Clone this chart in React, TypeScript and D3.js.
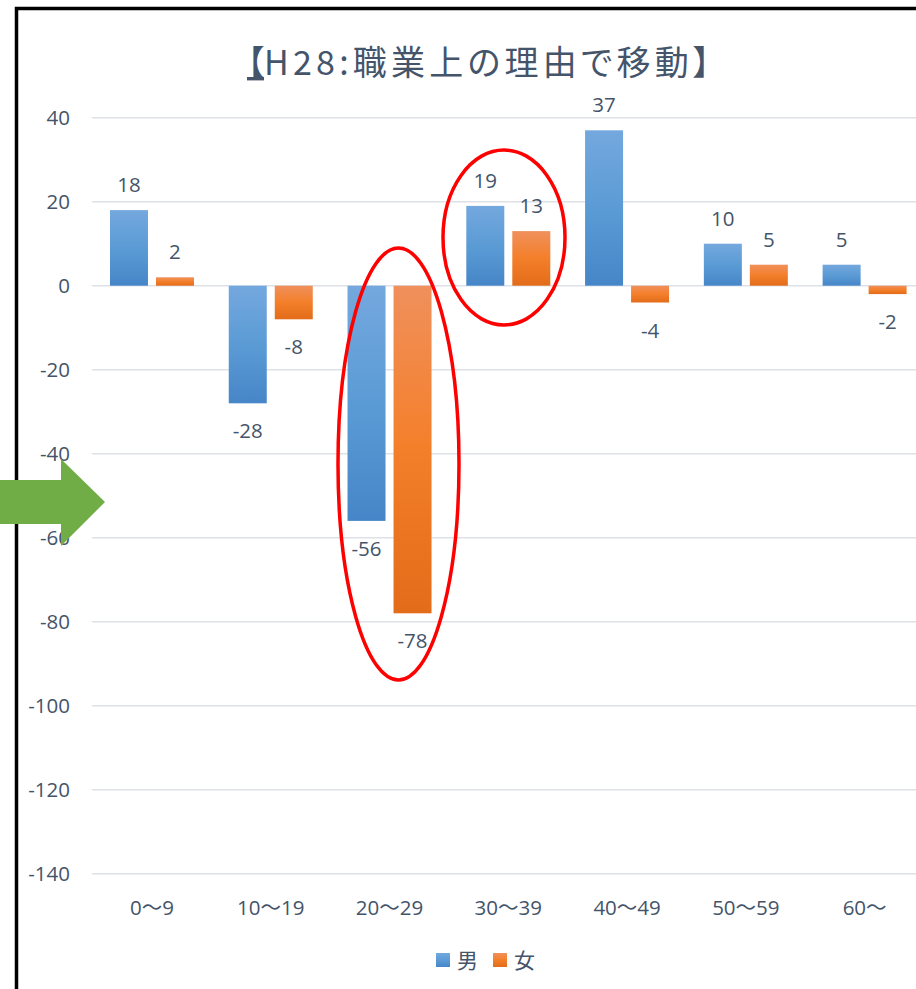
import React from "react";
import * as d3 from "d3";

const categories = ["0～9", "10～19", "20～29", "30～39", "40～49", "50～59", "60～"];
const seriesNames = ["男", "女"];
const maleValues = [18, -28, -56, 19, 37, 10, 5];
const femaleValues = [2, -8, -78, 13, -4, 5, -2];
const yTicks = [40, 20, 0, -20, -40, -60, -80, -100, -120, -140];
const titleText = "H28:職業上の理由で移動】";

const W = 916;
const H = 989;
const TEXT = "#44546A";
const NUM_FONT = "'Open Sans', 'Noto Sans CJK JP', sans-serif";
const CJK_FONT = "'Noto Sans CJK JP', sans-serif";

export default function App() {
  const x = d3.scaleBand<string>().domain(categories).range([92.6, 924]).paddingInner(0).paddingOuter(0);
  const bw = x.bandwidth();
  const groupW = 84;
  const inner = d3
    .scaleBand<string>()
    .domain(seriesNames)
    .range([(bw - groupW) / 2, (bw + groupW) / 2])
    .paddingInner(8 / 46)
    .paddingOuter(0);
  const y = d3.scaleLinear().domain([-140, 40]).range([873.7, 117.7]);

  const series = [
    { name: "男", values: maleValues, grad: "gBlue" },
    { name: "女", values: femaleValues, grad: "gOrange" },
  ];

  const arrow = [
    [0, 480],
    [61, 480],
    [61, 459],
    [105, 502],
    [61, 546],
    [61, 524],
    [0, 524],
  ];

  return (
    <svg
      width={W}
      height={H}
      style={{ position: "absolute", left: 0, top: 0, display: "block", background: "#fff" }}
    >
      <defs>
        <linearGradient id="gBlue" x1="0" y1="0" x2="0" y2="1">
          <stop offset="0" stopColor="#74A8DE" />
          <stop offset="0.5" stopColor="#5B9BD5" />
          <stop offset="1" stopColor="#4686C8" />
        </linearGradient>
        <linearGradient id="gOrange" x1="0" y1="0" x2="0" y2="1">
          <stop offset="0" stopColor="#F0905C" />
          <stop offset="0.5" stopColor="#F47F2A" />
          <stop offset="1" stopColor="#E26C19" />
        </linearGradient>
      </defs>
      <rect x={0} y={0} width={W} height={H} fill="#fff" />
      {/* border */}
      <rect x={16.5} y={8.5} width={W + 20} height={H + 20} fill="none" stroke="#000" strokeWidth={3.5} />

      {/* title */}
      <text
        x={247}
        y={75}
        fontFamily={CJK_FONT}
        fontSize={34}
        fill={TEXT}
        style={{ fontFeatureSettings: "'palt' 1" }}
      >
        <tspan textDecoration="underline">【</tspan>
        <tspan textLength={446} lengthAdjust="spacing">{titleText}</tspan>
      </text>

      {/* grid */}
      {yTicks.map((t) => (
        <line key={"g" + t} x1={92} x2={W} y1={y(t)} y2={y(t)} stroke="#DEE2E8" strokeWidth={1.5} />
      ))}
      {yTicks.map((t) => (
        <text
          key={"t" + t}
          x={70}
          y={y(t) + 7}
          textAnchor="end"
          fontFamily={NUM_FONT}
          fontSize={20.5}
          fill={TEXT}
        >
          {t}
        </text>
      ))}

      {/* bars */}
      {series.map((s) =>
        s.values.map((v, i) => {
          const bx = (x(categories[i]) as number) + (inner(s.name) as number);
          const top = y(Math.max(0, v));
          const bot = y(Math.min(0, v));
          return (
            <rect
              key={s.name + i}
              x={bx}
              y={top}
              width={inner.bandwidth()}
              height={bot - top}
              fill={`url(#${s.grad})`}
            />
          );
        })
      )}

      {/* data labels */}
      {series.map((s) =>
        s.values.map((v, i) => {
          const cx = (x(categories[i]) as number) + (inner(s.name) as number) + inner.bandwidth() / 2;
          const ly = v >= 0 ? y(v) - 18 : y(v) + 35;
          return (
            <text
              key={"l" + s.name + i}
              x={cx}
              y={ly}
              textAnchor="middle"
              fontFamily={NUM_FONT}
              fontSize={20.5}
              fill={TEXT}
            >
              {v}
            </text>
          );
        })
      )}

      {/* x labels */}
      {categories.map((c) => (
        <text
          key={"x" + c}
          x={(x(c) as number) + bw / 2}
          y={915}
          textAnchor="middle"
          fontFamily={NUM_FONT}
          fontSize={20.5}
          fill={TEXT}
        >
          {c}
        </text>
      ))}

      {/* legend */}
      {series.map((s, i) => (
        <g key={"lg" + s.name} transform={`translate(${436 + i * 57},0)`}>
          <rect x={0} y={953} width={14} height={14} fill={`url(#${s.grad})`} />
          <text x={21} y={968} fontFamily={CJK_FONT} fontSize={21} fill={TEXT}>
            {s.name}
          </text>
        </g>
      ))}

      {/* annotations */}
      <ellipse cx={398.5} cy={464} rx={60.5} ry={216} fill="none" stroke="#FF0000" strokeWidth={3.5} />
      <ellipse cx={504} cy={237.5} rx={61} ry={87.5} fill="none" stroke="#FF0000" strokeWidth={3.5} />
      <polygon points={arrow.map((p) => p.join(",")).join(" ")} fill="#70AD47" />
    </svg>
  );
}
